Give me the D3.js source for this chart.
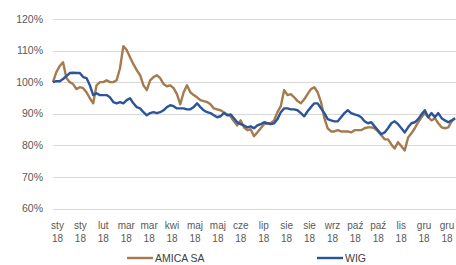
<!DOCTYPE html>
<html><head><meta charset="utf-8">
<script src="https://cdn.jsdelivr.net/npm/d3@7"></script>
<style>html,body{margin:0;padding:0;background:#fff;}svg{display:block;}</style>
</head><body>
<svg id="c" width="456" height="265"></svg>
<script>
const monthLabels = ["sty","sty","lut","mar","mar","kwi","maj","maj","cze","lip","sie","sie","wrz","paź","paź","lis","gru","gru"];
const yearLabel = "18";
const yTicks = [60,70,80,90,100,110,120];
const seriesNames = ["AMICA SA","WIG"];
const amica = [100.0,103.2,105.1,106.3,101.3,100.0,99.4,97.8,98.4,98.1,96.8,94.9,93.3,99.0,100.0,100.0,100.6,100.0,100.0,100.6,
104.4,111.4,110.2,107.9,105.7,103.8,102.2,99.0,97.5,100.6,101.6,102.2,101.3,99.4,98.7,99.0,98.1,96.2,93.0,96.8,
99.0,96.8,95.9,95.2,94.3,94.0,93.7,93.0,91.7,91.4,91.1,90.5,89.8,89.2,87.6,86.3,87.9,85.7,84.8,85.1,
82.9,84.1,85.4,86.7,87.0,87.0,87.9,90.5,92.4,97.5,95.9,96.2,95.2,94.0,93.3,94.6,96.2,97.8,98.4,96.8,
93.7,88.6,85.4,84.4,84.4,84.8,84.4,84.4,84.4,84.1,84.8,84.8,84.8,85.4,85.7,85.7,85.4,84.4,83.2,81.9,
81.9,80.3,79.0,81.0,79.7,78.4,82.5,83.8,85.4,87.3,88.9,90.2,88.9,87.9,88.6,87.0,85.7,85.4,85.7,87.6,88.6];
const wig = [100.0,100.3,100.3,101.0,101.9,102.9,103.0,102.9,102.9,101.6,101.3,99.0,95.9,96.5,95.9,95.9,95.9,95.2,93.7,93.3,
93.7,93.3,94.3,94.9,93.3,92.1,91.7,90.5,89.5,90.2,90.5,90.2,90.5,91.1,92.1,92.7,92.4,91.7,91.7,91.7,
91.4,91.4,92.1,93.3,92.1,91.1,90.5,90.2,89.5,88.9,89.2,90.2,89.5,89.8,88.6,87.3,86.7,86.3,85.7,86.0,
85.4,86.3,86.7,87.3,87.0,86.7,87.0,88.3,90.5,91.7,91.7,91.4,91.4,91.1,90.2,89.2,90.8,92.1,93.3,93.3,
91.7,90.2,88.3,87.9,87.6,87.6,88.9,90.2,91.1,90.2,89.8,89.5,88.9,87.6,87.0,87.3,86.0,84.8,83.5,84.1,
85.4,87.0,87.6,86.7,85.4,84.1,85.7,87.0,87.3,88.3,89.8,91.1,88.9,90.2,88.9,90.2,88.6,87.9,87.3,87.9,88.6];
const colors = ["#a57a4f","#2b559a"];

(function(){
const svg = d3.select("#c");
const font = "'Liberation Sans', Arial, sans-serif";
const mLeft = 53, mRight = 456, mTop = 19, mBottom = 208.5;
const y = d3.scaleLinear().domain([60,120]).range([mBottom, mTop]);
const x = d3.scaleLinear().domain([0, amica.length-1]).range([mLeft, 455]);
const xCat = d3.scalePoint().domain(d3.range(monthLabels.length)).range([57.5, 447]);

// gridlines
svg.append("g").selectAll("line").data(yTicks).join("line")
  .attr("x1", mLeft).attr("x2", mRight)
  .attr("y1", d => Math.round(y(d))+0.5).attr("y2", d => Math.round(y(d))+0.5)
  .attr("stroke", "#d9d9d9").attr("stroke-width", 1);

// y labels
svg.append("g").selectAll("text").data(yTicks).join("text")
  .attr("x", 43).attr("y", d => y(d)).attr("dy", "0.35em")
  .attr("text-anchor", "end").attr("font-family", font).attr("font-size", 10.5)
  .attr("fill", "#595959").text(d => d + "%");

// x labels
const xl = svg.append("g").selectAll("g").data(monthLabels.map((m,i)=>({m,i}))).join("g")
  .attr("transform", d => `translate(${xCat(d.i)},0)`);
xl.append("text").attr("y", 229).attr("text-anchor","middle").attr("font-family", font)
  .attr("font-size", 10).attr("fill","#595959").text(d => d.m);
xl.append("text").attr("y", 242).attr("text-anchor","middle").attr("font-family", font)
  .attr("font-size", 10).attr("fill","#595959").text(yearLabel);

// lines
const line = d3.line().x((d,i) => x(i)).y(d => y(d));
[amica, wig].forEach((s, k) => {
  svg.append("path").datum(s).attr("d", line).attr("fill","none")
    .attr("stroke", colors[k]).attr("stroke-width", 2.4).attr("stroke-linejoin","round");
});

// legend
const legendPos = [127, 317];
seriesNames.forEach((n, k) => {
  svg.append("line").attr("x1", legendPos[k]).attr("x2", legendPos[k]+26)
    .attr("y1", 258).attr("y2", 258).attr("stroke", colors[k]).attr("stroke-width", 2.4);
  svg.append("text").attr("x", legendPos[k]+28).attr("y", 258).attr("dy","0.35em")
    .attr("font-family", font).attr("font-size", 10.5).attr("fill","#404040").text(n);
});
})();
</script>
</body></html>
